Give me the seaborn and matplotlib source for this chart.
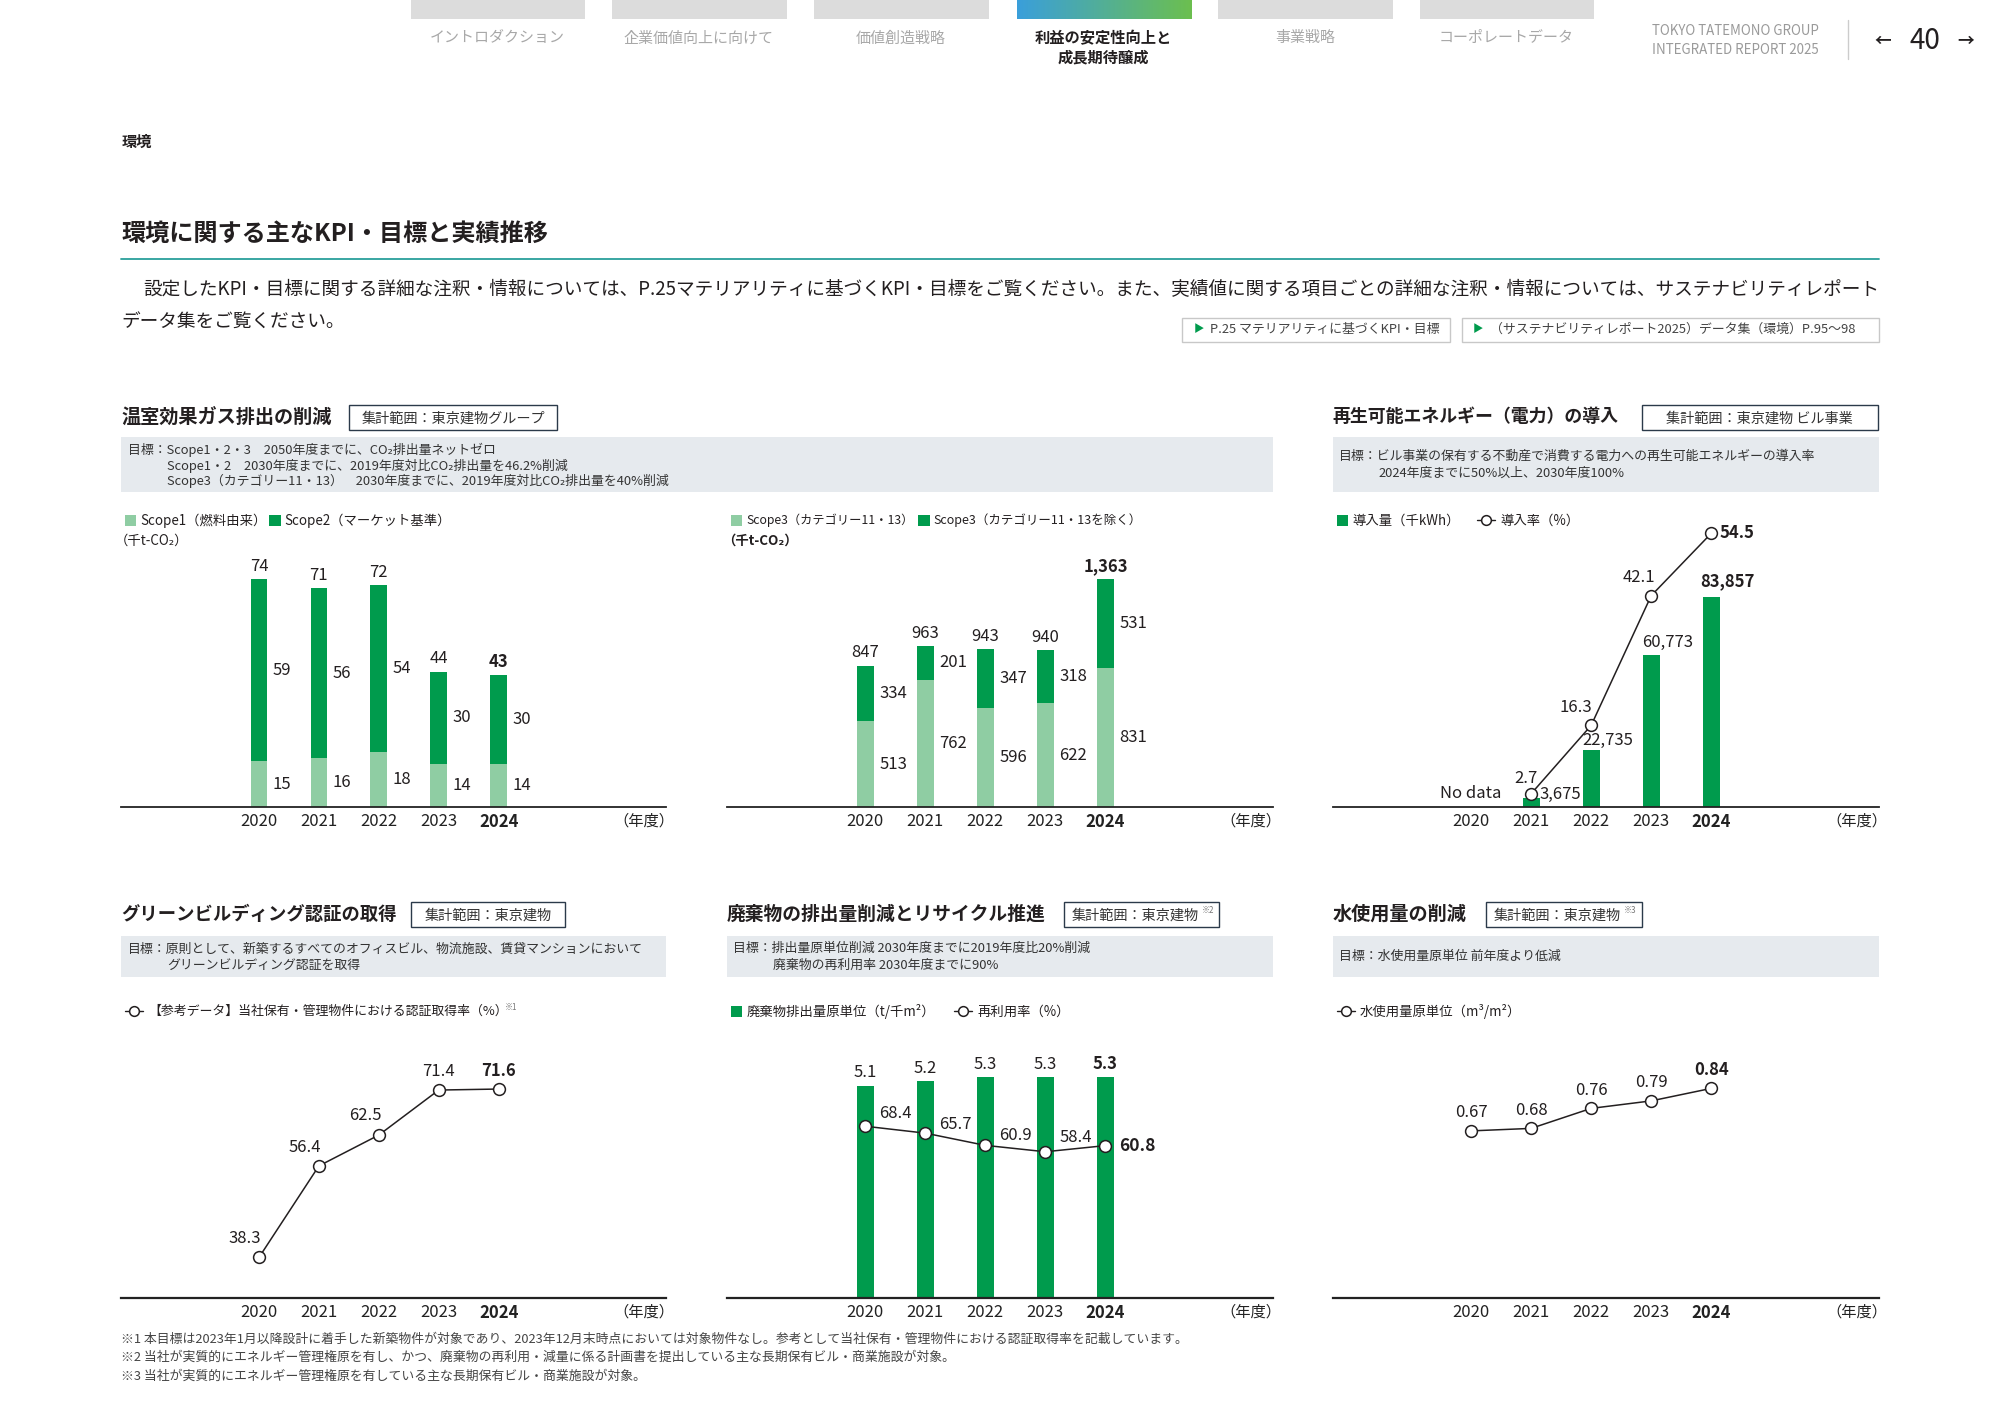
import numpy as np
import matplotlib.pyplot as plt
import seaborn as sns
from matplotlib.patches import Rectangle
from matplotlib.lines import Line2D
from matplotlib.colors import LinearSegmentedColormap

# ---- data ----
years = ['2020', '2021', '2022', '2023', '2024']

ghg_scope1 = [15, 16, 18, 14, 14]
ghg_scope2 = [59, 56, 54, 30, 30]
ghg_total = [74, 71, 72, 44, 43]

s3_cat = [513, 762, 596, 622, 831]
s3_other = [334, 201, 347, 318, 531]
s3_total = [847, 963, 943, 940, 1363]

ren_years = ['2021', '2022', '2023', '2024']
ren_kwh = [3675, 22735, 60773, 83857]
ren_rate = [2.7, 16.3, 42.1, 54.5]

gb_rate = [38.3, 56.4, 62.5, 71.4, 71.6]

waste_unit = [5.1, 5.2, 5.3, 5.3, 5.3]
waste_reuse = [68.4, 65.7, 60.9, 58.4, 60.8]

water_unit = [0.67, 0.68, 0.76, 0.79, 0.84]

nav_labels = ['イントロダクション', '企業価値向上に向けて', '価値創造戦略',
              '利益の安定性向上と\n成長期待醸成', '事業戦略', 'コーポレートデータ']

# colours
DARK = '#009B4D'
LIGHT = '#8FCDA3'
INK = '#231F20'
BOXC = '#E6EAEE'
NAVY = '#2B3A4A'

sns.set_theme(style='white')
plt.rcParams['font.family'] = ['Noto Sans CJK JP', 'DejaVu Sans']

# layout measured on a ~1568 px wide view of the page
W, H = 1568, 1109.4
fig = plt.figure(figsize=(20, 14.15), dpi=100)
fig.patch.set_facecolor('white')


def put(x, y, s, size=9, color=INK, weight='normal', ha='left', va='center'):
    return fig.text(x / W, 1 - y / H, s, fontsize=size, color=color,
                    fontweight=weight, ha=ha, va=va)


def rect(x0, y0, x1, y1, fc='none', ec='none', lw=1.0):
    fig.add_artist(Rectangle((x0 / W, 1 - y1 / H), (x1 - x0) / W, (y1 - y0) / H,
                             transform=fig.transFigure, facecolor=fc,
                             edgecolor=ec, linewidth=lw))


def hline(x0, x1, y, color, lw):
    fig.add_artist(Line2D([x0 / W, x1 / W], [1 - y / H, 1 - y / H],
                          transform=fig.transFigure, color=color, linewidth=lw))


def leg_square(x, y, color, label, size=9.6):
    rect(x, y - 4.5, x + 9, y + 4.5, fc=color)
    put(x + 12, y, label, size=size)


def leg_line(x, y, label, size=9.6):
    hline(x, x + 14, y, INK, 1.0)
    fig.add_artist(Line2D([(x + 7) / W], [1 - y / H], transform=fig.transFigure,
                          marker='o', markersize=7, markerfacecolor='white',
                          markeredgecolor=INK, markeredgewidth=1.1))
    put(x + 18, y, label, size=size)


def title_block(x, y, title, scope, bx0, bx1, sup=None, size=13.8):
    put(x, y, title, size=size, weight='bold')
    rect(bx0, y - 9.5, bx1, y + 10, fc='white', ec=NAVY, lw=1.0)
    if sup:
        put(bx0 + 6, y + 1, scope, size=10.2, color='#333333')
        put(bx1 - 14, y - 3, sup, size=5.8, color='#777777')
    else:
        put((bx0 + bx1) / 2, y + 1, scope, size=10.2, color='#333333', ha='center')


def target_box(x0, x1, y0, y1, lines):
    rect(x0, y0, x1, y1, fc=BOXC)
    for tx, ty, s in lines:
        put(tx, ty, s, size=9.3, color='#333333')


def panel(left, right, base, top):
    ax = fig.add_axes([left / W, 1 - base / H, (right - left) / W, (base - top) / H])
    return ax


def style_axis(ax, lw=1.3):
    ax.set_facecolor('none')
    for s in ['top', 'right', 'left']:
        ax.spines[s].set_visible(False)
    ax.spines['bottom'].set_color('#222222')
    ax.spines['bottom'].set_linewidth(lw)
    ax.set_yticks([])
    ax.set_xticks(range(len(years)))
    ax.set_xticklabels(years)
    ax.tick_params(axis='x', length=0, pad=4, labelsize=12, colors='#222222')
    ax.get_xticklabels()[-1].set_fontweight('bold')
    ax.set_xlabel('')
    ax.set_ylabel('')
    ax.annotate('（年度）', xy=(1, 0), xycoords='axes fraction', xytext=(6, -4),
                textcoords='offset points', ha='right', va='top', fontsize=11,
                color='#222222')


def style_twin(ax):
    ax.set_facecolor('none')
    for s in ['top', 'right', 'left', 'bottom']:
        ax.spines[s].set_visible(False)
    ax.set_yticks([])
    ax.set_ylabel('')


def white_markers(ax):
    for ln in ax.lines:
        ln.set_markerfacecolor('white')
        ln.set_zorder(5)


def lbl(ax, s, xy, dx, dy, ha='center', va='center', bold=False, size=12):
    ax.annotate(s, xy, xytext=(dx, dy), textcoords='offset points', ha=ha, va=va,
                fontsize=size, color=INK, fontweight='bold' if bold else 'normal',
                zorder=6)


XL = (-2.3, 6.79)
BW = 0.28
line_kw = dict(color=INK, markers='o', markersize=8.5, linewidth=1.1,
               markeredgewidth=1.1, errorbar=None)

# ---- page header ----
tabs = [322, 480, 638, 797, 955, 1113]
for i, (tx, lab) in enumerate(zip(tabs, nav_labels)):
    if i == 3:
        gax = fig.add_axes([tx / W, 1 - 15 / H, 137 / W, 15 / H])
        gax.imshow(np.linspace(0, 1, 256)[None, :], aspect='auto',
                   cmap=LinearSegmentedColormap.from_list('g', ['#3A9FDB', '#6CBF4F']))
        gax.axis('off')
        put(tx + 68, 37.5, lab, size=11, weight='bold', ha='center', va='center')
    else:
        rect(tx, 0, tx + 137, 15, fc='#DCDCDC')
        put(tx + 68, 30, lab, size=10.8, color='#A8A8A8', ha='center')
put(1295, 24, 'TOKYO TATEMONO GROUP', size=9.6, color='#9A9A9A')
put(1295, 39, 'INTEGRATED REPORT 2025', size=9.6, color='#9A9A9A')
fig.add_artist(Line2D([1449 / W, 1449 / W], [1 - 16 / H, 1 - 46 / H],
                      transform=fig.transFigure, color='#CCCCCC', linewidth=1))
put(1476, 32, '←', size=12, ha='center', weight='bold')
put(1509, 32, '40', size=20, ha='center')
put(1541, 32, '→', size=12, ha='center', weight='bold')

put(95, 111, '環境', size=11, weight='bold')
put(95, 183, '環境に関する主なKPI・目標と実績推移', size=17.4, weight='bold')
hline(95, 1473, 203, '#2A9F9B', 1.3)
put(112, 227, '設定したKPI・目標に関する詳細な注釈・情報については、P.25マテリアリティに基づくKPI・目標を'
    'ご覧ください。また、実績値に関する項目ごとの詳細な注釈・情報については、サステナビリティレポート',
    size=13.45)
put(95, 253, 'データ集をご覧ください。', size=13.45)

rect(927, 249, 1137, 268, fc='white', ec='#C8C8C8', lw=1)
put(940, 258, '▶', size=7.5, color=DARK, ha='center')
put(949, 258.5, 'P.25 マテリアリティに基づくKPI・目標', size=9.3, color='#444444')
rect(1146, 249, 1473, 268, fc='white', ec='#C8C8C8', lw=1)
put(1159, 258, '▶', size=7.5, color=DARK, ha='center')
put(1168, 258.5, '（サステナビリティレポート2025）データ集（環境）P.95～98', size=9.3, color='#444444')

# ---- top row headers ----
title_block(95, 327, '温室効果ガス排出の削減', '集計範囲：東京建物グループ', 274, 437)
target_box(95, 998, 343, 386, [
    (100, 353, '目標：Scope1・2・3　2050年度までに、CO₂排出量ネットゼロ'),
    (131, 365, 'Scope1・2　2030年度までに、2019年度対比CO₂排出量を46.2%削減'),
    (131, 377, 'Scope3（カテゴリー11・13）　2030年度までに、2019年度対比CO₂排出量を40%削減'),
])
title_block(1045, 327, '再生可能エネルギー（電力）の導入', '集計範囲：東京建物 ビル事業', 1287, 1472,
            size=12.9)
target_box(1045, 1473, 343, 386, [
    (1050, 358, '目標：ビル事業の保有する不動産で消費する電力への再生可能エネルギーの導入率'),
    (1081, 371, '2024年度までに50%以上、2030年度100%'),
])

leg_square(98, 408, LIGHT, 'Scope1（燃料由来）')
leg_square(211, 408, DARK, 'Scope2（マーケット基準）')
put(90, 424, '（千t-CO₂）', size=9.6)
leg_square(573, 408, LIGHT, 'Scope3（カテゴリー11・13）', size=8.8)
leg_square(720, 408, DARK, 'Scope3（カテゴリー11・13を除く）', size=9.0)
put(566, 424, '（千t-CO₂）', size=9.6, weight='bold')
leg_square(1048, 408, DARK, '導入量（千kWh）')
leg_line(1158, 408, '導入率（%）')

# ---- chart 1: scope 1 / 2 ----
ax1 = panel(95, 522, 633, 400)
sns.barplot(x=years, y=ghg_total, color=DARK, width=BW, saturation=1,
            errorbar=None, linewidth=0, ax=ax1)
sns.barplot(x=years, y=ghg_scope1, color=LIGHT, width=BW, saturation=1,
            errorbar=None, linewidth=0, ax=ax1)
ax1.set_ylim(0, 96.3)
for i in range(len(years)):
    b = i == len(years) - 1
    lbl(ax1, f'{ghg_total[i]}', (i, ghg_total[i]), 0, 3, va='bottom', bold=b)
    lbl(ax1, f'{ghg_scope2[i]}', (i + BW / 2, (ghg_scope1[i] + ghg_total[i]) / 2), 4, 0, ha='left')
    lbl(ax1, f'{ghg_scope1[i]}', (i + BW / 2, ghg_scope1[i] / 2), 4, 0, ha='left')
style_axis(ax1)
ax1.set_xlim(*XL)

# ---- chart 2: scope 3 ----
ax2 = panel(570, 998, 633, 400)
sns.barplot(x=years, y=s3_total, color=DARK, width=BW, saturation=1,
            errorbar=None, linewidth=0, ax=ax2)
sns.barplot(x=years, y=s3_cat, color=LIGHT, width=BW, saturation=1,
            errorbar=None, linewidth=0, ax=ax2)
ax2.set_ylim(0, 1775)
for i in range(len(years)):
    b = i == len(years) - 1
    lbl(ax2, f'{s3_total[i]:,}', (i, s3_total[i]), 0, 3, va='bottom', bold=b)
    lbl(ax2, f'{s3_other[i]}', (i + BW / 2, (s3_cat[i] + s3_total[i]) / 2), 4, 0, ha='left')
    lbl(ax2, f'{s3_cat[i]}', (i + BW / 2, s3_cat[i] / 2), 4, 0, ha='left')
style_axis(ax2)
ax2.set_xlim(*XL)

# ---- chart 3: renewable electricity ----
ax3 = panel(1045, 1473, 633, 400)
sns.barplot(x=ren_years, y=ren_kwh, order=years, color=DARK, width=BW, saturation=1,
            errorbar=None, linewidth=0, ax=ax3)
ax3.set_ylim(0, 118400)
ax3b = ax3.twinx()
sns.pointplot(x=ren_years, y=ren_rate, order=years, ax=ax3b, **line_kw)
ax3b.set_ylim(0, 59.1)
white_markers(ax3b)
style_axis(ax3)
style_twin(ax3b)
ax3.set_xlim(*XL)
ax3b.set_xlim(*XL)
lbl(ax3, 'No data', (0, 0), 0, 10)
bar_off = [(6, 3, 'left', 'center'), (12, 1, 'center', 'bottom'),
           (12, 3, 'center', 'bottom'), (12, 5, 'center', 'bottom')]
rate_off = [(-4, 11, 'center'), (-11, 13, 'center'), (-9, 13, 'center'), (6, 0, 'left')]
for k, yr in enumerate(ren_years):
    i = years.index(yr)
    b = k == len(ren_years) - 1
    dx, dy, ha, va = bar_off[k]
    lbl(ax3, f'{ren_kwh[k]:,}', (i, ren_kwh[k]), dx, dy, ha=ha, va=va, bold=b)
    dx, dy, ha = rate_off[k]
    lbl(ax3b, f'{ren_rate[k]}', (i, ren_rate[k]), dx, dy, ha=ha, bold=b)

# ---- bottom row headers ----
title_block(95, 717, 'グリーンビルディング認証の取得', '集計範囲：東京建物', 322, 443, size=13.2)
target_box(95, 522, 734, 766, [
    (100, 744, '目標：原則として、新築するすべてのオフィスビル、物流施設、賃貸マンションにおいて'),
    (131, 757, 'グリーンビルディング認証を取得'),
])
title_block(570, 717, '廃棄物の排出量削減とリサイクル推進', '集計範囲：東京建物', 834, 956, sup='※2',
            size=13.5)
target_box(570, 998, 734, 766, [
    (575, 744, '目標：排出量原単位削減 2030年度までに2019年度比20%削減'),
    (606, 757, '廃棄物の再利用率 2030年度までに90%'),
])
title_block(1045, 717, '水使用量の削減', '集計範囲：東京建物', 1165, 1287, sup='※3')
target_box(1045, 1473, 734, 766, [
    (1050, 750, '目標：水使用量原単位 前年度より低減'),
])

leg_line(98, 793, '【参考データ】当社保有・管理物件における認証取得率（%）', size=9.3)
put(396, 790, '※1', size=5.8, color='#777777')
leg_square(573, 793, DARK, '廃棄物排出量原単位（t/千m²）')
leg_line(748, 793, '再利用率（%）')
leg_line(1048, 793, '水使用量原単位（m³/m²）')

# ---- chart 4: green building ----
ax4 = panel(95, 522, 1018, 790)
sns.pointplot(x=years, y=gb_rate, ax=ax4, **line_kw)
ax4.set_ylim(30.2, 87.7)
white_markers(ax4)
style_axis(ax4, lw=1.6)
ax4.set_xlim(*XL)
gb_off = [(-10, 14), (-10, 13), (-10, 14), (0, 13), (0, 13)]
for i, v in enumerate(gb_rate):
    lbl(ax4, f'{v}', (i, v), gb_off[i][0], gb_off[i][1], bold=i == len(years) - 1)

# ---- chart 5: waste ----
ax5 = panel(570, 998, 1018, 790)
sns.barplot(x=years, y=waste_unit, color=DARK, width=BW, saturation=1,
            errorbar=None, linewidth=0, ax=ax5)
ax5.set_ylim(0, 6.97)
ax5b = ax5.twinx()
sns.pointplot(x=years, y=waste_reuse, ax=ax5b, **line_kw)
ax5b.set_ylim(0.9, 114.9)
white_markers(ax5b)
style_axis(ax5, lw=1.6)
style_twin(ax5b)
ax5.set_xlim(*XL)
ax5b.set_xlim(*XL)
reuse_dy = [9, 6, 7, 10, 0]
for i in range(len(years)):
    b = i == len(years) - 1
    lbl(ax5, f'{waste_unit[i]}', (i, waste_unit[i]), 0, 3, va='bottom', bold=b)
    lbl(ax5b, f'{waste_reuse[i]}', (i, waste_reuse[i]), 10, reuse_dy[i], ha='left',
        bold=b, size=12.5 if b else 12)

# ---- chart 6: water ----
ax6 = panel(1045, 1473, 1018, 790)
sns.pointplot(x=years, y=water_unit, ax=ax6, **line_kw)
ax6.set_ylim(0, 1.163)
white_markers(ax6)
style_axis(ax6, lw=1.6)
ax6.set_xlim(*XL)
for i, v in enumerate(water_unit):
    lbl(ax6, f'{v:.2f}', (i, v), 0, 13, bold=i == len(years) - 1)

# ---- footnotes ----
put(95, 1050, '※1 本目標は2023年1月以降設計に着手した新築物件が対象であり、2023年12月末時点においては対象物件なし。'
    '参考として当社保有・管理物件における認証取得率を記載しています。', size=9.25, color='#444444')
put(95, 1064, '※2 当社が実質的にエネルギー管理権原を有し、かつ、廃棄物の再利用・減量に係る計画書を提出している'
    '主な長期保有ビル・商業施設が対象。', size=9.25, color='#444444')
put(95, 1079, '※3 当社が実質的にエネルギー管理権原を有している主な長期保有ビル・商業施設が対象。',
    size=9.25, color='#444444')

fig.savefig('out.png', dpi=100, facecolor='white')
